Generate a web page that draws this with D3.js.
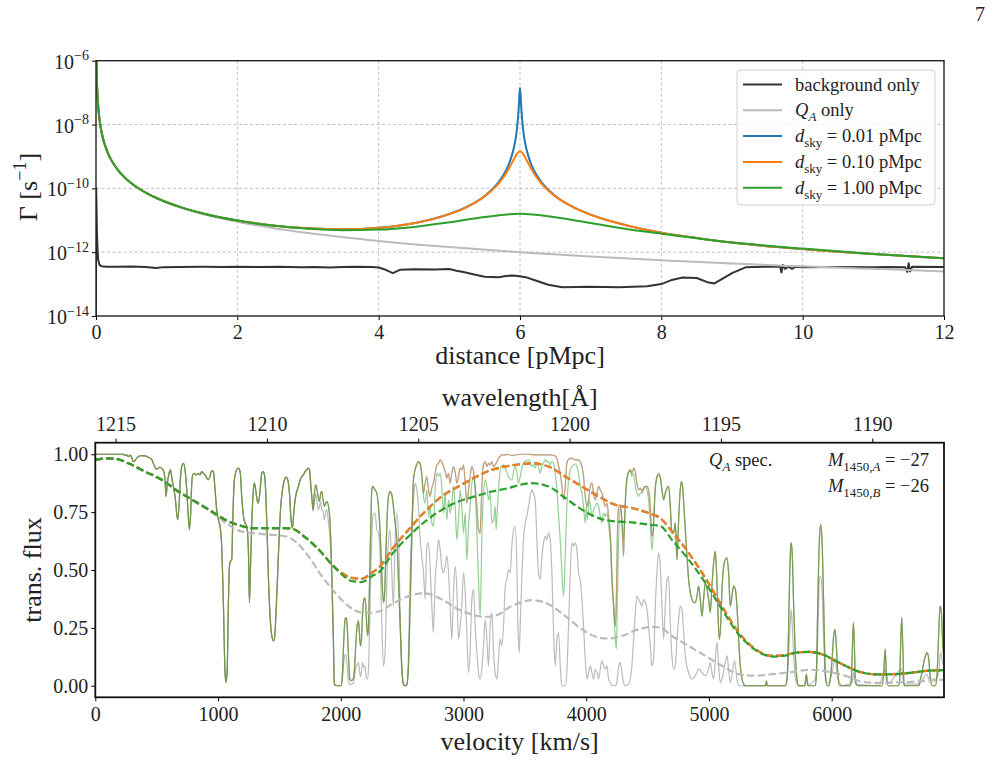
<!DOCTYPE html>
<html lang="en">
<head>
<meta charset="UTF-8">
<title>Photoionisation rate and transmitted flux</title>
<style>
  body { margin: 0; background: #fff; }
  svg text { font-family: "Liberation Serif", "DejaVu Serif", serif; fill: #222; }
</style>
</head>
<body>
<svg id="chart" width="998" height="764"></svg>
<script src="https://d3js.org/d3.v7.min.js"></script>
<script>
// ---------- top panel data: Gamma [s^-1] vs distance [pMpc] ----------
const distTicks = [0, 2, 4, 6, 8, 10, 12];
const gammaTickExp = [-6, -8, -10, -12, -14];

const bgDist = [0,0.002,0.004,0.008,0.012,0.02,0.03,0.05,0.08,0.15,0.3,0.5,0.7,0.85,0.95,1.2,1.5,1.8,2.0,2.3,2.6,2.9,3.1,3.3,3.5,3.7,3.9,4.0,4.1,4.2,4.3,4.5,4.8,5.0,5.1,5.2,5.35,5.5,5.7,5.8,5.9,6.0,6.1,6.2,6.4,6.6,7.0,7.4,7.8,8.0,8.15,8.3,8.5,8.65,8.75,8.85,9.0,9.2,9.5,9.68,9.7,9.72,9.75,9.8,9.85,9.9,10.0,10.5,11.0,11.2,11.45,11.48,11.5,11.52,11.55,12];
const bgGamma = [1e-14,1e-10,6e-11,2e-11,5e-12,1.5e-12,6e-13,4e-13,3.6e-13,3.5e-13,
  3.5e-13,3.55e-13,3.45e-13,3.2e-13,3.4e-13,3.45e-13,3.5e-13,3.45e-13,3.5e-13,3.45e-13,
  3.5e-13,3.4e-13,3.45e-13,3.3e-13,3.45e-13,3.5e-13,3.45e-13,3.3e-13,2.8e-13,2.2e-13,
  2.8e-13,2.9e-13,2.85e-13,2.95e-13,2.6e-13,2.4e-13,2.0e-13,1.7e-13,1.65e-13,1.8e-13,
  1.85e-13,1.75e-13,1.6e-13,1.35e-13,9.5e-14,8e-14,8.2e-14,8e-14,8.5e-14,1.0e-13,
  1.35e-13,1.6e-13,1.55e-13,1.15e-13,1.05e-13,1.4e-13,2.2e-13,3.4e-13,3.5e-13,3.5e-13,
  2.3e-13,4.0e-13,3.0e-13,3.5e-13,3.0e-13,3.5e-13,3.4e-13,3.45e-13,3.4e-13,3.45e-13,
  3.4e-13,2.4e-13,4.5e-13,2.5e-13,3.5e-13,3.45e-13];

const distQA = [0.006,0.01,0.02,0.03,0.05,0.075,0.1,0.15,0.2,0.3,0.4,0.5,0.75,1,1.25,1.5,2,2.5,3,4,5,6,7,8,9,10,11,12];
const gammaQA = [1e-6,3.6e-7,9e-8,4e-8,1.44e-8,6.4e-9,3.6e-9,1.6e-9,9e-10,4e-10,2.25e-10,1.44e-10,6.4e-11,3.6e-11,2.3e-11,1.6e-11,9e-12,5.76e-12,4e-12,2.25e-12,1.44e-12,1e-12,7.3e-13,5.6e-13,4.4e-13,3.6e-13,3e-13,2.5e-13];

const distNear = [0.006,0.01,0.02,0.03,0.05,0.075,0.1,0.15,0.2,0.3,0.4,0.5,0.75,1,1.25,1.5,2,2.5,3,3.5,4,4.5,5,5.25,5.5,5.7,5.8,5.85,5.9,5.95,5.98,5.99,6,6.01,6.02,6.05,6.1,6.15,6.2,6.3,6.5,6.75,7,7.5,8,8.5,9,10,11,12];
const gammaSky001 = [1e-6,3.6e-7,9e-8,4e-8,1.44e-8,6.4e-9,3.6e-9,1.6e-9,9e-10,4e-10,
  2.25e-10,1.445e-10,6.45e-11,3.66e-11,2.36e-11,1.67e-11,9.9e-12,6.9e-12,5.6e-12,5.2e-12,
  5.8e-12,8.1e-12,1.57e-11,2.67e-11,5.8e-11,1.6e-10,3.6e-10,6.3e-10,1.42e-9,5.5e-9,
  2.86e-8,7.15e-8,1.43e-7,7.15e-8,2.86e-8,5.5e-9,1.42e-9,6.3e-10,3.6e-10,1.6e-10,
  5.8e-11,2.62e-11,1.5e-11,7.0e-12,4.1e-12,2.8e-12,2.0e-12,1.25e-12,8.7e-13,6.5e-13];
const gammaSky010 = [1e-6,3.6e-7,9e-8,4e-8,1.44e-8,6.4e-9,3.6e-9,1.6e-9,9e-10,4e-10,
  2.25e-10,1.445e-10,6.45e-11,3.66e-11,2.36e-11,1.67e-11,9.9e-12,6.9e-12,5.6e-12,5.2e-12,
  5.8e-12,8.1e-12,1.56e-11,2.6e-11,5.6e-11,1.44e-10,2.87e-10,4.4e-10,7.15e-10,1.14e-9,
  1.375e-9,1.416e-9,1.43e-9,1.416e-9,1.375e-9,1.14e-9,7.15e-10,4.4e-10,2.87e-10,1.44e-10,
  5.6e-11,2.58e-11,1.49e-11,7.0e-12,4.1e-12,2.8e-12,2.0e-12,1.25e-12,8.7e-13,6.5e-13];

const distWide = [0.006,0.01,0.02,0.03,0.05,0.075,0.1,0.15,0.2,0.3,0.4,0.5,0.75,1,1.25,1.5,2,2.5,3,3.5,4,4.5,5,5.5,6,6.5,7,7.5,8,9,10,11,12];
const gammaSky100 = [1e-6,3.6e-7,9e-8,4e-8,1.44e-8,6.4e-9,3.6e-9,1.6e-9,9e-10,4e-10,
  2.25e-10,1.445e-10,6.45e-11,3.66e-11,2.36e-11,1.67e-11,9.8e-12,6.8e-12,5.4e-12,4.9e-12,
  5.1e-12,6.2e-12,8.6e-12,1.26e-11,1.6e-11,1.25e-11,8.2e-12,5.3e-12,3.8e-12,2.0e-12,
  1.3e-12,8.8e-13,6.4e-13];

// ---------- bottom panel data: transmitted flux vs velocity [km/s] ----------
const velMax = 6915;
const lyaRest = 1215.67, cLight = 299792.458;
const velTicks = [0, 1000, 2000, 3000, 4000, 5000, 6000];
const fluxTicks = [0, 0.25, 0.5, 0.75, 1.0];
const waveTicks = [1215, 1210, 1205, 1200, 1195, 1190];

// part common to all three thin spectra
const velCommon = [0,229,242,256,269,283,296,310,324,337,351,378,405,432,460,473,487,500,514,527,541,555,568,576,587,601,612,622,636,650,671,682,693,704,718,731,745,758,767,777,786,794,807,821,840,853,867,881,894,908,921,935,949,962,976,989,1003,1016,1030,1044,1057,1065,1074,1084,1093,1101,1112,1120,1133,1152,1166,1180,1193,1207,1220,1234,1248,1256,1266,1275,1288,1296,1307,1318,1329,1343,1356,1367,1378,1389,1400,1411,1424,1438,1451,1459,1470,1484,1497,1511,1525,1541,1555,1568,1582,1595,1606,1617,1628,1641,1655,1669,1682,1696,1709,1723,1737,1745];
const fluxCommon = [1.0,1.0,0.994,0.997,0.99,0.996,0.987,0.968,0.973,0.983,0.99,0.994,0.993,0.987,0.978,0.961,0.944,0.935,0.94,0.944,0.94,0.93,0.89,0.818,0.875,0.918,0.933,0.904,0.861,0.818,0.717,0.775,0.89,0.947,0.961,0.933,0.846,0.732,0.674,0.746,0.875,0.911,0.918,0.911,0.918,0.911,0.925,0.918,0.911,0.897,0.89,0.904,0.93,0.925,0.846,0.76,0.717,0.689,0.603,0.344,0.057,0.014,0.057,0.344,0.516,0.538,0.545,0.717,0.889,0.933,0.94,0.925,0.818,0.732,0.703,0.689,0.574,0.359,0.545,0.703,0.846,0.875,0.846,0.803,0.789,0.846,0.918,0.925,0.911,0.832,0.66,0.459,0.301,0.215,0.194,0.201,0.287,0.459,0.631,0.775,0.846,0.889,0.901,0.889,0.832,0.717,0.681,0.746,0.803,0.839,0.861,0.889,0.904,0.911,0.925,0.933,0.94,0.933];

// quasar-pair spectra (d_sky cases) where they coincide
const velPairA = [1753,1764,1775,1785,1796,1807,1818,1826,1837,1845,1856,1867,1878,1886,1900,1913,1927,1940,1948,1968,1987,2003,2014,2025,2035,2044,2052,2063,2073,2084,2101,2112,2122,2133,2144,2152,2160,2169,2177,2188,2196,2204,2212,2220,2228,2237,2245,2253,2261,2272,2280,2294,2307,2321,2334,2348,2356,2367,2378,2389,2402,2416,2429,2443,2457,2470,2484,2497,2511,2525,2538,2552,2565,2579];
const fluxPairA = [0.889,0.818,0.76,0.832,0.868,0.846,0.811,0.796,0.832,0.84,0.803,0.775,0.789,0.796,0.775,0.703,0.488,0.201,0.007,0,0,0,0.057,0.201,0.287,0.294,0.258,0.129,0.029,0.022,0.029,0.072,0.172,0.258,0.28,0.23,0.172,0.201,0.301,0.373,0.38,0.344,0.258,0.215,0.287,0.516,0.703,0.847,0.861,0.854,0.846,0.832,0.775,0.66,0.488,0.359,0.387,0.56,0.732,0.818,0.839,0.825,0.775,0.703,0.631,0.459,0.258,0.086,0.007,0,0.003,0.086,0.344,0.631];

const velOrangeMid = [2592,2606,2620,2633,2647,2660,2674,2688,2701,2715,2728,2742,2755,2769,2783,2796,2810,2823,2837,2851,2864,2878,2891,2905,2918,2932,2946,2959,2973,2986,3000,3014,3027,3041,3054,3068,3082,3095,3109,3122,3136,3144,3155,3166,3177,3190,3204,3217,3231,3245,3258,3272,3285,3299,3312,3340,3367,3394,3421,3475,3530,3584,3639,3693,3720,3747,3761,3775,3788,3802,3815,3829,3842,3856,3883,3910,3937,3951,3965,3978,3992,4005,4019,4033,4046,4060,4073,4087,4101,4114,4128,4141,4155,4169,4182,4196,4209,4223,4236,4245,4253,4264,4277,4291,4304,4312,4323,4334,4345,4359,4372,4386,4400,4413,4427,4440,4454,4467,4481,4495,4508,4522,4535,4544,4552,4563,4576,4590,4603];
const fluxOrangeMid = [0.889,0.933,0.954,0.968,0.961,0.918,0.832,0.875,0.904,0.846,0.818,0.854,0.875,0.918,0.954,0.961,0.976,0.968,0.947,0.925,0.897,0.918,0.875,0.918,0.947,0.925,0.875,0.904,0.94,0.933,0.954,0.875,0.789,0.846,0.904,0.947,0.925,0.861,0.775,0.674,0.66,0.775,0.918,0.961,0.968,0.947,0.961,0.954,0.968,0.947,0.954,0.968,0.983,0.99,0.997,0.997,0.999,0.994,0.997,1.0,1.0,0.997,0.997,0.997,0.996,0.993,0.983,0.947,0.918,0.861,0.803,0.861,0.961,0.978,0.983,0.976,0.976,0.968,0.947,0.904,0.818,0.775,0.803,0.861,0.875,0.832,0.803,0.832,0.861,0.846,0.832,0.803,0.775,0.789,0.732,0.66,0.459,0.344,0.258,0.373,0.631,0.775,0.782,0.703,0.56,0.703,0.846,0.904,0.925,0.933,0.918,0.94,0.925,0.875,0.846,0.854,0.84,0.854,0.861,0.861,0.846,0.775,0.646,0.66,0.746,0.861,0.904,0.918,0.904];

const velGreenMid = [2592,2620,2633,2647,2660,2674,2688,2701,2715,2728,2742,2755,2769,2783,2796,2810,2823,2837,2851,2864,2878,2891,2905,2918,2932,2946,2959,2973,2986,3000,3014,3027,3041,3054,3068,3082,3095,3109,3122,3136,3149,3163,3177,3190,3204,3217,3231,3245,3258,3266,3277,3291,3307,3326,3345,3367,3394,3421,3435,3448,3462,3475,3489,3503,3516,3530,3543,3557,3570,3584,3598,3611,3625,3639,3652,3666,3679,3693,3706,3720,3734,3747,3761,3775,3788,3802,3815,3829,3842,3856,3870,3883,3897,3910,3924,3937,3951,3965,3978,3992,4000,4008,4016,4024,4035,4046,4060,4073,4087,4101,4114,4128,4141,4155,4169,4182,4196,4209,4223,4236,4245,4253,4264,4277,4291,4304,4318,4331,4345,4359,4372,4386,4400,4413,4427,4440,4454,4467,4481,4495,4508,4522,4535,4544,4552,4563,4576,4590,4603];
const fluxGreenMid = [0.889,0.961,0.968,0.954,0.904,0.818,0.789,0.846,0.732,0.775,0.703,0.689,0.846,0.918,0.904,0.918,0.861,0.746,0.832,0.717,0.803,0.746,0.789,0.861,0.775,0.631,0.717,0.846,0.775,0.66,0.746,0.545,0.689,0.775,0.875,0.904,0.846,0.66,0.459,0.301,0.631,0.832,0.889,0.861,0.803,0.832,0.703,0.717,0.775,0.674,0.775,0.889,0.947,0.954,0.933,0.904,0.889,0.954,0.918,0.875,0.904,0.94,0.961,0.968,0.973,0.976,0.964,0.947,0.954,0.94,0.961,0.947,0.918,0.947,0.961,0.976,0.968,0.968,0.954,0.968,0.961,0.918,0.846,0.732,0.631,0.488,0.387,0.56,0.775,0.889,0.933,0.947,0.954,0.958,0.947,0.918,0.861,0.832,0.775,0.703,0.775,0.717,0.746,0.803,0.775,0.732,0.76,0.775,0.789,0.775,0.732,0.703,0.746,0.732,0.746,0.689,0.631,0.488,0.344,0.215,0.158,0.344,0.631,0.775,0.717,0.631,0.775,0.889,0.918,0.933,0.904,0.918,0.861,0.832,0.818,0.832,0.832,0.846,0.861,0.846,0.803,0.703,0.588,0.631,0.732,0.846,0.897,0.911,0.897];

const velPairB = [4617,4631,4644,4658,4671,4685,4698,4712,4726,4739,
  4753,4766,4775,4785,4796,4807,4821,4834,4848,4861,
  4875,4889,4902,4916,4929,4943,4956,4970,4984,4997,
  5011,5024,5038,5052,5062,5073,5084,5095,5106,5120,
  5133,5147,5160,5174,5187,5201,5215,5228,5242,5255,
  5269,5283,5296,5459,5468,5477,5622,5636,5644,5655,
  5666,5671,5679,5690,5704,5717,5731,5780,5794,5806,
  5867,5876,5886,5900,5910,5921,5935,5948,5962,5976,
  5989,6003,6016,6027,6038,6049,6063,6152,6160,6171,
  6177,6185,6193,6207,6410,6424,6435,6446,6459,6546,
  6554,6563,6571,6579,6590,6709,6723,6736,6750,6764,
  6777,6791,6804,6818,6845,6859,6872,6883,6894,6905,
  6915];
const fluxPairB = [0.846,0.803,0.832,0.854,0.861,0.775,0.66,0.66,0.703,0.545,
  0.717,0.846,0.882,0.861,0.775,0.674,0.56,0.459,0.402,0.373,
  0.359,0.359,0.387,0.43,0.373,0.301,0.373,0.445,0.416,0.373,
  0.316,0.43,0.531,0.581,0.488,0.316,0.2,0.258,0.416,0.516,
  0.545,0.552,0.488,0.344,0.387,0.43,0.416,0.344,0.201,0.086,
  0.029,0.007,0,0,0.02,0,0,0.029,0.129,0.416,
  0.603,0.617,0.56,0.344,0.129,0.029,0,0,0.05,0,
  0,0.057,0.344,0.631,0.696,0.631,0.344,0.057,0,0,
  0.029,0.115,0.215,0.244,0.172,0.057,0,0,0.029,0.201,
  0.273,0.172,0.029,0,0,0.057,0.158,0.057,0,0,
  0.029,0.201,0.294,0.172,0,0,0.029,0.057,0.1,0.129,
  0.143,0.115,0.029,0,0,0.057,0.229,0.344,0.316,0.172,
  0.12];

// single-quasar (grey) spectrum after the common part
const velGrayTail = [1753,1764,1775,1785,1796,1807,1818,1826,1837,1845,
  1856,1867,1878,1886,1900,1913,1927,1940,1948,2003,
  2014,2025,2035,2044,2052,2063,2073,2101,2112,2122,
  2133,2144,2152,2160,2169,2177,2188,2196,2204,2212,
  2220,2228,2237,2245,2253,2261,2272,2280,2294,2307,
  2321,2334,2348,2361,2375,2389,2402,2416,2429,2443,
  2457,2470,2484,2497,2511,2525,2538,2552,2565,2579,
  2592,2606,2620,2633,2647,2660,2674,2688,2701,2715,
  2728,2742,2755,2769,2783,2796,2810,2823,2837,2851,
  2864,2878,2891,2905,2918,2932,2946,2959,2973,2986,
  3000,3014,3027,3041,3054,3068,3082,3095,3109,3122,
  3136,3149,3163,3177,3190,3204,3217,3231,3245,3258,
  3272,3285,3299,3312,3326,3340,3353,3367,3381,3394,
  3408,3421,3435,3443,3454,3462,3475,3489,3503,3516,
  3530,3543,3557,3570,3584,3598,3611,3625,3639,3652,
  3666,3679,3693,3706,3720,3734,3747,3761,3775,3788,
  3802,3829,3842,3856,3870,3883,3897,3910,3924,3937,
  3951,3965,3978,3992,4005,4019,4033,4046,4060,4073,
  4087,4101,4114,4128,4141,4155,4169,4182,4196,4209,
  4236,4250,4264,4277,4291,4304,4318,4345,4359,4372,
  4386,4400,4413,4427,4440,4454,4467,4481,4495,4508,
  4522,4535,4549,4563,4576,4590,4603,4617,4631,4644,
  4658,4671,4685,4698,4712,4726,4739,4753,4766,4780,
  4794,4807,4834,4861,4889,4916,4943,4970,4997,5011,
  5024,5038,5052,5065,5079,5092,5106,5133,5147,5160,
  5174,5187,5209,5228,5242,5622,5636,5649,5663,5671,
  5679,5690,5704,5731,5780,5794,5806,5867,5886,5900,
  5910,5921,5935,5948,5962,6003,6027,6043,6084,6166,
  6177,6193,6383,6435,6451,6571,6587,6709,6777,6791,
  6845,6872,6886,6899,6915];
const fluxGrayTail = [0.87,0.81,0.753,0.79,0.832,0.79,0.76,0.775,0.796,0.76,
  0.753,0.717,0.753,0.76,0.703,0.631,0.445,0.172,0.003,0,
  0.03,0.1,0.136,0.13,0.08,0.02,0.005,0.01,0.04,0.08,
  0.09,0.1,0.07,0.04,0.06,0.1,0.08,0.086,0.05,0.03,
  0.029,0.1,0.3,0.5,0.63,0.73,0.745,0.746,0.674,0.66,
  0.56,0.273,0.086,0.143,0.445,0.631,0.674,0.488,0.344,0.631,
  0.746,0.66,0.316,0.057,0.007,0,0.007,0.143,0.488,0.703,
  0.803,0.875,0.846,0.775,0.631,0.56,0.488,0.373,0.603,0.617,
  0.516,0.344,0.23,0.459,0.545,0.631,0.588,0.516,0.488,0.516,
  0.56,0.488,0.344,0.201,0.402,0.516,0.416,0.201,0.258,0.344,
  0.488,0.402,0.23,0.057,0.143,0.373,0.416,0.258,0.143,0.057,
  0.029,0.072,0.172,0.287,0.201,0.086,0.258,0.316,0.143,0.057,
  0.029,0.115,0.201,0.172,0.258,0.43,0.459,0.502,0.488,0.603,
  0.674,0.69,0.516,0.273,0.143,0.258,0.459,0.631,0.703,0.732,
  0.775,0.818,0.846,0.832,0.803,0.631,0.488,0.459,0.56,0.617,
  0.646,0.631,0.66,0.631,0.488,0.23,0.086,0.201,0.23,0.086,
  0,0,0.057,0.258,0.488,0.617,0.603,0.617,0.588,0.488,
  0.459,0.373,0.258,0.115,0.029,0.057,0.086,0.057,0.029,0.072,
  0.057,0.029,0.072,0.108,0.086,0.072,0.086,0.029,0.014,0.003,
  0,0.014,0.086,0.1,0.057,0.014,0,0.007,0.029,0.086,
  0.201,0.316,0.387,0.373,0.359,0.344,0.373,0.359,0.33,0.258,
  0.172,0.086,0.115,0.344,0.488,0.574,0.516,0.344,0.201,0.344,
  0.459,0.473,0.273,0.129,0.072,0.086,0.201,0.287,0.344,0.33,
  0.23,0.129,0.057,0.029,0.043,0.072,0.057,0.043,0.072,0.1,
  0.057,0.029,0.115,0.187,0.086,0.014,0.029,0.1,0.129,0.072,
  0.014,0.043,0.108,0.029,0,0,0.029,0.143,0.273,0.33,
  0.258,0.129,0.029,0,0,0.03,0.005,0.029,0.201,0.459,
  0.473,0.416,0.201,0.029,0.007,0.057,0.115,0.057,0,0.014,
  0.057,0.007,0,0.072,0.007,0.072,0.007,0.007,0.05,0.029,
  0.029,0.057,0.143,0.115,0.08];

// smoothed (dashed) curves
const velDashCommon = [0,82,161,269,405,541,677,813];
const fluxDashCommon = [0.976,0.982,0.981,0.961,0.925,0.89,0.839,0.796];
const velDashPair = [949,1084,1180,1275,1411,1546,1628,1682,1764,1845,1927];
const fluxDashPair = [0.753,0.71,0.692,0.681,0.681,0.681,0.674,0.653,0.617,0.574,0.524];
const velDashMid = [2008,2090,2171,2253,2321,2416,2552,2688,2823,2959,3095,3231,3367,3462,3557,3693,3829,3965,4101,4236,4372,4508,4603,4698,4834,4970,5106,5242,5378,5514,5649];
const fluxDashOrange = [0.487,0.466,0.462,0.488,0.516,0.588,0.674,0.753,0.818,0.861,0.901,0.933,0.95,0.957,0.961,0.947,0.904,0.861,0.818,0.782,0.768,0.746,0.724,0.667,0.574,0.466,0.344,0.23,0.158,0.129,0.136];
const fluxDashGreen = [0.481,0.452,0.448,0.473,0.495,0.567,0.645,0.71,0.76,0.796,0.818,0.839,0.854,0.868,0.875,0.861,0.811,0.761,0.724,0.71,0.706,0.696,0.69,0.631,0.545,0.445,0.33,0.222,0.155,0.126,0.132];
const velDashEnd = [5704,5813,5921,6030,6139,6247,6383,6519,6655,6791,6915];
const fluxDashEnd = [0.143,0.146,0.136,0.108,0.079,0.057,0.049,0.05,0.057,0.065,0.067];
const velDashGray = [949,1084,1180,1275,1411,1546,1628,1736,1845,1954,2063,2171,2253,2321,2416,2552,2688,2823,2959,3095,3177,3285,3367,3462,3557,3693,3829,3965,4101,4182,4291,4427,4535,4603,4698,4834,4970,5106,5242,5378,5514,5649,5745,5840,5976,6111,6247,6383,6519,6655,6791,6915];
const fluxDashGray = [0.75,0.695,0.668,0.66,0.653,0.646,0.624,0.56,0.474,0.402,0.344,0.316,0.316,0.323,0.352,0.387,0.399,0.373,0.33,0.304,0.297,0.308,0.337,0.359,0.37,0.352,0.301,0.244,0.208,0.204,0.215,0.244,0.254,0.251,0.215,0.172,0.129,0.086,0.05,0.043,0.05,0.057,0.065,0.069,0.06,0.043,0.017,0.012,0.014,0.017,0.022,0.026];

// ---------- drawing ----------
const C = { bg: '#333333', qa: '#bbbbbb', blue: '#1f77b4', orange: '#ff7f0e', green: '#2ca02c' };
const svg = d3.select('#chart');
const seg = (v, f) => d3.zip(v, f);

// writes a small piece of "math" text: parts = [{t, i (italic), s (-1 sub, +1 sup)}]
function rich(textSel, parts, size) {
    let prev = 0;
    parts.forEach(p => {
        const shift = p.s === -1 ? size * 0.28 : p.s === 1 ? -size * 0.42 : 0;
        const ts = textSel.append('tspan').text(p.t).attr('dy', shift - prev);
        if (p.i) ts.attr('font-style', 'italic');
        if (p.s) ts.attr('font-size', size * 0.7);
        prev = shift;
    });
    return textSel;
}

svg.append('text').attr('x', 985).attr('y', 21).attr('text-anchor', 'end')
    .attr('font-size', 20).text('7');

// ===== top panel =====
const P1 = { l: 96, r: 944, t: 60.7, b: 316 };
const x1 = d3.scaleLinear().domain([0, 12]).range([P1.l, P1.r]);
const y1 = d3.scaleLog().domain([1e-14, 1e-6]).range([P1.b, P1.t]);

svg.append('clipPath').attr('id', 'clip1').append('rect')
    .attr('x', P1.l).attr('y', P1.t).attr('width', P1.r - P1.l).attr('height', P1.b - P1.t);

const grid1 = svg.append('g').attr('stroke', '#b0b0b0').attr('stroke-width', 0.8).attr('stroke-dasharray', '3,2.5');
grid1.selectAll('.gx').data(distTicks.slice(1, -1)).join('line')
    .attr('x1', d => x1(d)).attr('x2', d => x1(d)).attr('y1', P1.t).attr('y2', P1.b);
grid1.selectAll('.gy').data(gammaTickExp.slice(1, -1)).join('line')
    .attr('x1', P1.l).attr('x2', P1.r).attr('y1', d => y1(Math.pow(10, d))).attr('y2', d => y1(Math.pow(10, d)));

const line1 = d3.line().x(d => x1(d[0])).y(d => y1(d[1]));
const topSeries = [
    { data: seg(bgDist, bgGamma), color: C.bg, curve: d3.curveLinear },
    { data: seg(distQA, gammaQA), color: C.qa, curve: d3.curveMonotoneX },
    { data: seg(distNear, gammaSky001), color: C.blue, curve: d3.curveMonotoneX },
    { data: seg(distNear, gammaSky010), color: C.orange, curve: d3.curveMonotoneX },
    { data: seg(distWide, gammaSky100), color: C.green, curve: d3.curveMonotoneX },
];
const lines1 = svg.append('g').attr('clip-path', 'url(#clip1)');
topSeries.forEach(s => {
    lines1.append('path').attr('d', line1.curve(s.curve)(s.data))
        .attr('fill', 'none').attr('stroke', s.color).attr('stroke-width', 2)
        .attr('stroke-linejoin', 'round');
});

const xAxis1 = svg.append('g').attr('transform', `translate(0,${P1.b})`)
    .call(d3.axisBottom(x1).tickValues(distTicks).tickSize(4).tickPadding(5).tickFormat(d3.format('d')));
xAxis1.attr('font-family', null).attr('font-size', 20);
xAxis1.select('.domain').remove();

const yAxis1 = svg.append('g').attr('transform', `translate(${P1.l},0)`)
    .call(d3.axisLeft(y1).tickValues(gammaTickExp.map(e => Math.pow(10, e))).tickSize(4).tickFormat(''));
yAxis1.select('.domain').remove();
gammaTickExp.forEach(e => {
    const t = svg.append('text').attr('x', 89).attr('y', y1(Math.pow(10, e)) + 8)
        .attr('text-anchor', 'end').attr('font-size', 20);
    rich(t, [{ t: '10' }, { t: '\u2212' + Math.abs(e), s: 1 }], 20);
});

svg.append('rect').attr('x', P1.l).attr('y', P1.t).attr('width', P1.r - P1.l).attr('height', P1.b - P1.t)
    .attr('fill', 'none').attr('stroke', '#222').attr('stroke-width', 1.4);

svg.append('text').attr('x', (P1.l + P1.r) / 2).attr('y', 364).attr('text-anchor', 'middle')
    .attr('font-size', 26).text('distance [pMpc]');
rich(svg.append('text').attr('transform', 'translate(37,187) rotate(-90)').attr('text-anchor', 'middle')
    .attr('font-size', 26), [{ t: '\u0393 [s' }, { t: '\u22121', s: 1 }, { t: ']' }], 26);

// legend
const legend = svg.append('g');
legend.append('rect').attr('x', 737).attr('y', 70).attr('width', 198).attr('height', 135)
    .attr('rx', 4).attr('fill', '#fff').attr('fill-opacity', 0.8).attr('stroke', '#d0d0d0');
const legendItems = [
    { color: C.bg, parts: [{ t: 'background only' }] },
    { color: C.qa, parts: [{ t: 'Q', i: true }, { t: 'A', i: true, s: -1 }, { t: ' only' }] },
    { color: C.blue, parts: [{ t: 'd', i: true }, { t: 'sky', s: -1 }, { t: ' = 0.01 pMpc' }] },
    { color: C.orange, parts: [{ t: 'd', i: true }, { t: 'sky', s: -1 }, { t: ' = 0.10 pMpc' }] },
    { color: C.green, parts: [{ t: 'd', i: true }, { t: 'sky', s: -1 }, { t: ' = 1.00 pMpc' }] },
];
legendItems.forEach((it, i) => {
    const cy = 84.5 + i * 25.8;
    legend.append('line').attr('x1', 743).attr('x2', 782).attr('y1', cy).attr('y2', cy)
        .attr('stroke', it.color).attr('stroke-width', 2);
    rich(legend.append('text').attr('x', 795).attr('y', cy + 6).attr('font-size', 18.5), it.parts, 18.5);
});

// ===== bottom panel =====
const P2 = { l: 95.3, r: 944, t: 442.7, b: 697.3 };
const x2 = d3.scaleLinear().domain([0, velMax]).range([P2.l, P2.r]);
const y2 = d3.scaleLinear().domain([-0.05, 1.05]).range([P2.b, P2.t]);
const xWave = d3.scaleLinear().domain([lyaRest, lyaRest * (1 - velMax / cLight)]).range([P2.l, P2.r]);

svg.append('clipPath').attr('id', 'clip2').append('rect')
    .attr('x', P2.l).attr('y', P2.t).attr('width', P2.r - P2.l).attr('height', P2.b - P2.t);

const line2 = d3.line().x(d => x2(d[0])).y(d => y2(d[1])).curve(d3.curveMonotoneX);
const specGray = [].concat(seg(velCommon, fluxCommon), seg(velGrayTail, fluxGrayTail));
const specOrange = [].concat(seg(velCommon, fluxCommon), seg(velPairA, fluxPairA),
    seg(velOrangeMid, fluxOrangeMid), seg(velPairB, fluxPairB));
const specGreen = [].concat(seg(velCommon, fluxCommon), seg(velPairA, fluxPairA),
    seg(velGreenMid, fluxGreenMid), seg(velPairB, fluxPairB));
const dashGray = [].concat(seg(velDashCommon, fluxDashCommon), seg(velDashGray, fluxDashGray));
const dashOrange = [].concat(seg(velDashCommon, fluxDashCommon), seg(velDashPair, fluxDashPair),
    seg(velDashMid, fluxDashOrange), seg(velDashEnd, fluxDashEnd));
const dashGreen = [].concat(seg(velDashCommon, fluxDashCommon), seg(velDashPair, fluxDashPair),
    seg(velDashMid, fluxDashGreen), seg(velDashEnd, fluxDashEnd));

const lines2 = svg.append('g').attr('clip-path', 'url(#clip2)');
// thin spectra (the d_sky = 0.01 one sits under the 0.10 one at these velocities)
[[specGray, C.qa, 1], [specOrange, C.blue, 0.5], [specOrange, C.orange, 0.5], [specGreen, C.green, 0.5]]
    .forEach(([d, col, op]) => {
        lines2.append('path').attr('d', line2(d)).attr('fill', 'none')
            .attr('stroke', col).attr('stroke-opacity', op).attr('stroke-width', 1.2);
    });
[[dashGray, C.qa], [dashOrange, C.blue], [dashOrange, C.orange], [dashGreen, C.green]]
    .forEach(([d, col]) => {
        lines2.append('path').attr('d', line2(d)).attr('fill', 'none')
            .attr('stroke', col).attr('stroke-width', 2.2).attr('stroke-dasharray', '7.5,3.3');
    });

const xAxis2 = svg.append('g').attr('transform', `translate(0,${P2.b})`)
    .call(d3.axisBottom(x2).tickValues(velTicks).tickSize(4).tickPadding(6).tickFormat(d3.format('d')));
xAxis2.attr('font-family', null).attr('font-size', 20);
xAxis2.select('.domain').remove();

const yAxis2 = svg.append('g').attr('transform', `translate(${P2.l},0)`)
    .call(d3.axisLeft(y2).tickValues(fluxTicks).tickSize(4).tickPadding(3).tickFormat(d3.format('.2f')));
yAxis2.attr('font-family', null).attr('font-size', 20);
yAxis2.select('.domain').remove();

const waveAxis = svg.append('g').attr('transform', `translate(0,${P2.t})`)
    .call(d3.axisTop(xWave).tickValues(waveTicks).tickSize(4).tickPadding(8).tickFormat(d3.format('d')));
waveAxis.attr('font-family', null).attr('font-size', 20);
waveAxis.select('.domain').remove();

svg.append('rect').attr('x', P2.l).attr('y', P2.t).attr('width', P2.r - P2.l).attr('height', P2.b - P2.t)
    .attr('fill', 'none').attr('stroke', '#111').attr('stroke-width', 1.8);

svg.append('text').attr('x', (P2.l + P2.r) / 2).attr('y', 750).attr('text-anchor', 'middle')
    .attr('font-size', 26).text('velocity [km/s]');
svg.append('text').attr('x', (P2.l + P2.r) / 2).attr('y', 406).attr('text-anchor', 'middle')
    .attr('font-size', 26).text('wavelength[\u00C5]');
svg.append('text').attr('transform', 'translate(41,570) rotate(-90)').attr('text-anchor', 'middle')
    .attr('font-size', 26).text('trans. flux');

rich(svg.append('text').attr('x', 709).attr('y', 466).attr('font-size', 18.5),
    [{ t: 'Q', i: true }, { t: 'A', i: true, s: -1 }, { t: ' spec.' }], 18.5);
rich(svg.append('text').attr('x', 929).attr('y', 466).attr('text-anchor', 'end').attr('font-size', 18.5),
    [{ t: 'M', i: true }, { t: '1450,', s: -1 }, { t: 'A', i: true, s: -1 }, { t: ' = \u221227' }], 18.5);
rich(svg.append('text').attr('x', 929).attr('y', 492).attr('text-anchor', 'end').attr('font-size', 18.5),
    [{ t: 'M', i: true }, { t: '1450,', s: -1 }, { t: 'B', i: true, s: -1 }, { t: ' = \u221226' }], 18.5);
</script>
</body>
</html>
